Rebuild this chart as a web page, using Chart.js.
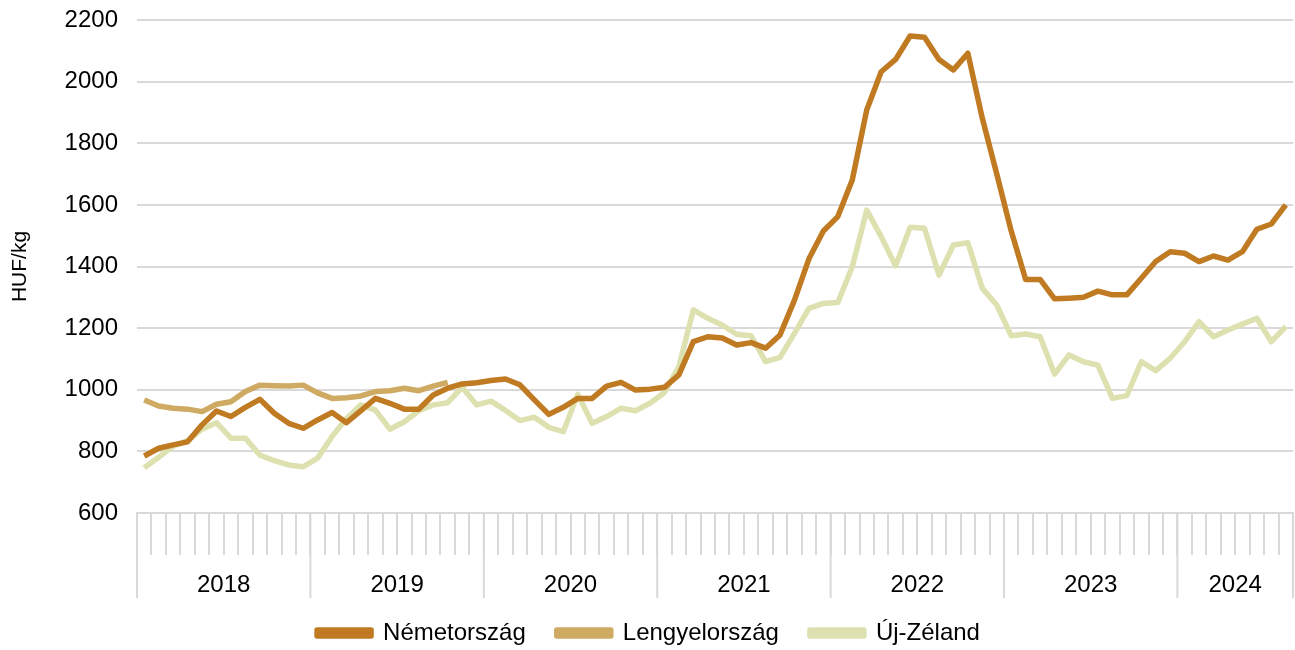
<!DOCTYPE html>
<html lang="hu">
<head>
<meta charset="UTF-8">
<title>HUF/kg</title>
<script src="https://cdn.jsdelivr.net/npm/chart.js@4.4.1/dist/chart.umd.min.js"></script>
<style>
  html, body { margin: 0; padding: 0; background: #fff; }
  #wrap { width: 1295px; height: 650px; }
</style>
</head>
<body>
<div id="wrap"><canvas id="myChart" width="1295" height="650"></canvas></div>
<script>
// years shown on the x axis and how many months each has
var years = ['2018', '2019', '2020', '2021', '2022', '2023', '2024'];
var monthsInYear = [12, 12, 12, 12, 12, 12, 8];

// HUF/kg, monthly from 2018-01
var nemetorszag = [
  785, 810, 821, 831, 886, 931, 913, 943, 969, 924, 891, 875,
  902, 926, 893, 932, 972, 956, 937, 937, 983, 1005, 1019, 1023,
  1030, 1035, 1016, 967, 920, 943, 972, 972, 1012, 1024, 999, 1002,
  1008, 1048, 1156, 1172, 1168, 1145, 1153, 1135, 1178, 1291, 1425, 1515,
  1562, 1681, 1908, 2032, 2072, 2148, 2144, 2072, 2038, 2092, 1881, 1700,
  1515, 1358, 1358, 1295, 1297, 1300, 1320, 1308, 1308, 1362, 1416, 1448,
  1443, 1416, 1434, 1421, 1448, 1521, 1538, 1600
];
var lengyelorszag = [
  967, 947, 940, 937, 929, 953, 961, 994, 1015, 1013, 1012, 1015,
  990, 972, 974, 980, 994, 997, 1005, 997, 1012, 1024
];
var ujZeland = [
  747, 781, 817, 835, 872, 893, 843, 843, 788, 770, 756, 750,
  778, 848, 907, 951, 934, 872, 896, 932, 951, 958, 1008, 951,
  963, 933, 900, 911, 878, 864, 985, 891, 913, 940, 932, 956,
  991, 1075, 1259, 1232, 1210, 1180, 1175, 1091, 1105, 1183, 1264, 1280,
  1283, 1399, 1583, 1497, 1402, 1527, 1524, 1372, 1470, 1477, 1329, 1275,
  1175, 1181, 1172, 1051, 1113, 1091, 1080, 972, 981, 1091, 1062, 1102,
  1156, 1221, 1172, 1194, 1213, 1232, 1156, 1205
];

var labels = [];
years.forEach(function (y, k) {
  for (var m = 1; m <= monthsInYear[k]; m++) {
    labels.push(y + '-' + (m < 10 ? '0' + m : m));
  }
});

var gridColor = '#d9d9d9';
var font = { family: "'Liberation Sans', Arial, sans-serif", size: 24 };

// year dividers and labels under the month ticks
var yearAxis = {
  id: 'yearAxis',
  afterDraw: function (chart) {
    var x = chart.scales.x;
    var ctx = chart.ctx;
    var top = chart.chartArea.bottom;
    var half = (x.getPixelForTick(1) - x.getPixelForTick(0)) / 2;
    ctx.save();
    ctx.strokeStyle = gridColor;
    ctx.lineWidth = 2;
    ctx.fillStyle = '#000';
    ctx.font = font.size + 'px ' + font.family;
    ctx.textAlign = 'center';
    ctx.textBaseline = 'middle';
    var start = 0;
    years.forEach(function (y, k) {
      var x0 = x.getPixelForTick(start) - half;
      var x1 = x.getPixelForTick(start + monthsInYear[k] - 1) + half;
      ctx.beginPath();
      ctx.moveTo(x0, top);
      ctx.lineTo(x0, top + 85);
      if (k == years.length - 1) {
        ctx.moveTo(x1, top);
        ctx.lineTo(x1, top + 85);
      }
      ctx.stroke();
      ctx.fillText(y, (x0 + x1) / 2, top + 72);
      start += monthsInYear[k];
    });
    ctx.restore();
  }
};

var ctx = document.getElementById('myChart').getContext('2d');
var myChart = new Chart(ctx, {
  type: 'line',
  data: {
    labels: labels,
    datasets: [{
      label: 'Németország',
      data: nemetorszag,
      borderColor: '#c07a22',
      backgroundColor: '#c07a22',
      borderWidth: 5.5
    }, {
      label: 'Lengyelország',
      data: lengyelorszag,
      borderColor: '#cfaa62',
      backgroundColor: '#cfaa62',
      borderWidth: 5.5
    }, {
      label: 'Új-Zéland',
      data: ujZeland,
      borderColor: '#dde1b0',
      backgroundColor: '#dde1b0',
      borderWidth: 5.5
    }]
  },
  options: {
    responsive: false,
    animation: false,
    layout: { padding: { top: 20, right: 2, left: 4, bottom: 0 } },
    elements: {
      line: { tension: 0, borderJoinStyle: 'round' },
      point: { radius: 0 }
    },
    scales: {
      x: {
        offset: true,
        grid: { offset: true, drawOnChartArea: false, tickLength: 42, color: gridColor, lineWidth: 2 },
        border: { color: gridColor, width: 2 },
        ticks: { display: false, autoSkip: false },
        afterFit: function (scale) { scale.height = 77; }
      },
      y: {
        min: 600,
        max: 2200,
        ticks: {
          stepSize: 200, color: '#000', font: font, padding: 19,
          callback: function (v) { return String(v); }
        },
        grid: { color: gridColor, lineWidth: 2, drawTicks: false },
        border: { display: false },
        title: { display: true, text: 'HUF/kg', color: '#000', font: { family: font.family, size: 21 }, padding: 4 },
        afterFit: function (scale) {
          scale.width = 133;
          scale.paddingTop = 0;
          scale.paddingBottom = 0;
        }
      }
    },
    plugins: {
      legend: {
        position: 'bottom',
        maxHeight: 60,
        labels: { boxWidth: 54, boxHeight: 6, padding: 31, color: '#000', font: font }
      },
      tooltip: { enabled: false }
    }
  },
  plugins: [yearAxis]
});
</script>
</body>
</html>
